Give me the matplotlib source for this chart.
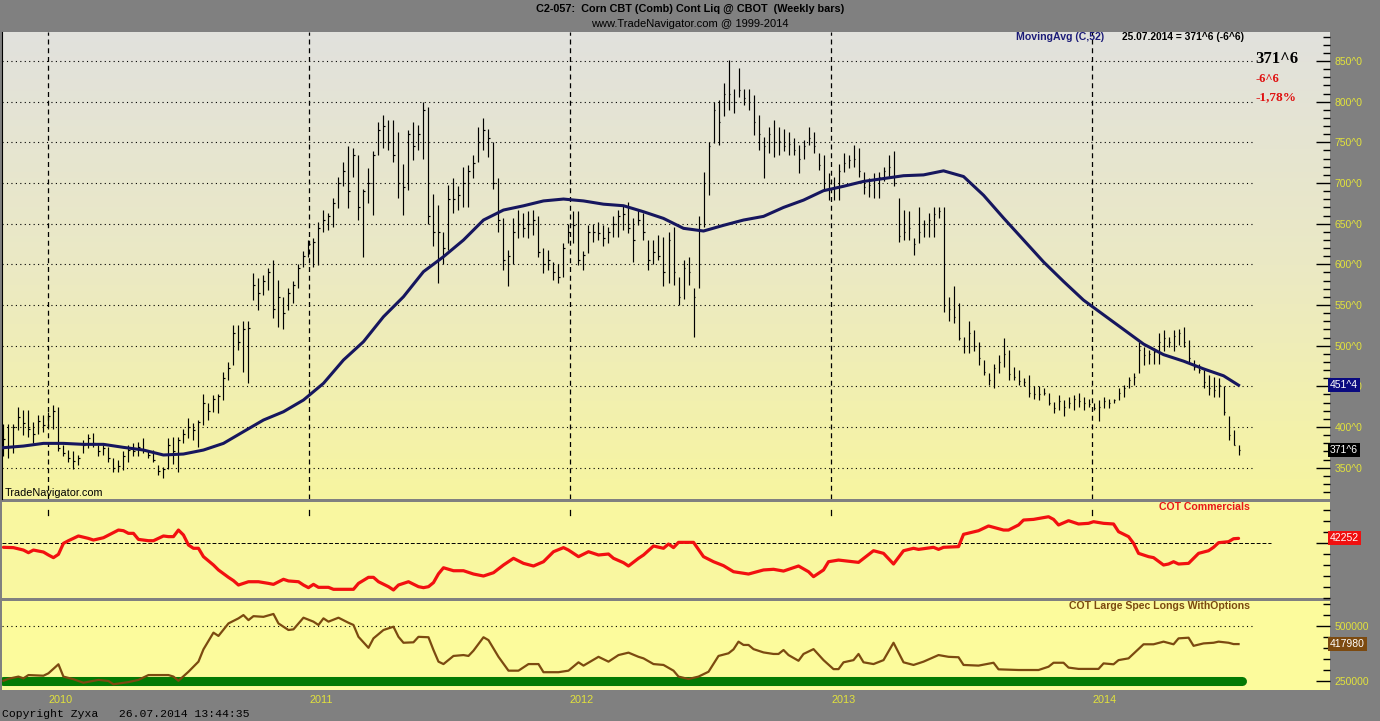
import matplotlib
matplotlib.use('Agg')
import matplotlib.pyplot as plt
import matplotlib.dates as mdates
import matplotlib.transforms as mtransforms
from matplotlib.colors import LinearSegmentedColormap
from matplotlib.ticker import MultipleLocator, FixedLocator, FuncFormatter, NullFormatter
import numpy as np
import pandas as pd

plt.rcParams['font.family'] = ['Liberation Sans', 'DejaVu Sans']

# weekly bars (Fridays), corn continuous contract
dates = pd.date_range('2009-10-30', periods=248, freq='7D')

highs = [404, 404, 404, 425, 421, 421, 406, 415, 415, 419,
         427, 425, 378, 372, 370, 366, 384, 392, 393, 378,
         378, 376, 362, 359, 370, 378, 380, 382, 386, 372,
         372, 353, 351, 386, 388, 388, 398, 411, 405, 409,
         441, 429, 439, 441, 468, 480, 525, 525, 530, 530,
         589, 583, 587, 595, 605, 581, 560, 571, 579, 601,
         616, 630, 632, 652, 667, 663, 681, 708, 726, 745,
         743, 734, 693, 718, 739, 775, 784, 777, 777, 763,
         724, 765, 775, 771, 800, 794, 687, 673, 640, 698,
         706, 696, 720, 722, 734, 769, 780, 767, 751, 706,
         657, 618, 657, 667, 663, 665, 667, 659, 620, 618,
         603, 601, 626, 650, 665, 665, 616, 648, 650, 652,
         648, 646, 659, 667, 673, 677, 657, 667, 663, 630,
         630, 636, 634, 640, 646, 585, 605, 609, 571, 659,
         714, 751, 800, 802, 823, 851, 816, 841, 816, 816,
         808, 784, 757, 769, 777, 769, 767, 763, 755, 747,
         753, 769, 763, 737, 734, 712, 708, 724, 737, 735,
         747, 743, 714, 706, 712, 714, 720, 735, 739, 681,
         667, 665, 632, 671, 655, 663, 671, 671, 671, 560,
         573, 552, 511, 530, 519, 505, 482, 466, 478, 489,
         509, 495, 474, 470, 460, 464, 450, 450, 448, 442,
         431, 439, 433, 437, 439, 442, 437, 435, 429, 433,
         437, 435, 435, 448, 452, 462, 466, 505, 499, 495,
         497, 515, 519, 511, 519, 521, 523, 507, 482, 478,
         470, 464, 462, 460, 450, 413, 396, 378]

lows = [364, 362, 368, 396, 390, 388, 380, 392, 394, 400,
        398, 370, 364, 357, 349, 353, 368, 374, 376, 364,
        366, 357, 345, 345, 347, 357, 364, 364, 368, 362,
        357, 341, 337, 349, 355, 345, 380, 386, 384, 376,
        402, 409, 419, 417, 433, 458, 476, 495, 468, 454,
        556, 544, 562, 568, 534, 523, 521, 544, 552, 571,
        597, 609, 597, 599, 640, 642, 646, 669, 696, 669,
        708, 655, 609, 675, 661, 734, 743, 741, 726, 681,
        661, 691, 728, 741, 730, 650, 622, 577, 601, 618,
        663, 667, 671, 671, 706, 726, 741, 732, 693, 640,
        593, 573, 601, 632, 634, 632, 636, 609, 589, 593,
        581, 577, 585, 626, 626, 599, 593, 614, 628, 630,
        622, 626, 634, 634, 642, 638, 603, 648, 630, 593,
        601, 605, 573, 577, 575, 550, 558, 575, 511, 571,
        646, 685, 749, 747, 782, 790, 786, 806, 796, 790,
        759, 741, 706, 737, 732, 734, 739, 734, 734, 712,
        730, 747, 737, 716, 691, 679, 679, 679, 714, 718,
        720, 708, 687, 683, 681, 681, 702, 708, 696, 628,
        630, 630, 612, 626, 634, 634, 634, 657, 542, 530,
        528, 507, 491, 491, 493, 476, 464, 452, 448, 466,
        474, 458, 458, 452, 450, 437, 435, 433, 439, 427,
        417, 421, 413, 423, 421, 425, 421, 425, 421, 407,
        423, 423, 429, 433, 437, 448, 452, 466, 476, 478,
        478, 478, 493, 499, 493, 501, 499, 480, 470, 466,
        448, 439, 437, 437, 415, 384, 378, 366]

closes = [385, 375, 400, 412, 405, 398, 392, 408, 402, 414,
          420, 374, 368, 362, 358, 362, 378, 386, 380, 370,
          374, 362, 350, 352, 364, 372, 370, 376, 372, 366,
          360, 346, 348, 378, 370, 384, 392, 400, 396, 406,
          430, 420, 434, 438, 460, 472, 515, 505, 520, 522,
          575, 565, 580, 590, 545, 560, 540, 565, 575, 596,
          610, 625, 628, 645, 655, 660, 675, 700, 715, 690,
          735, 670, 690, 700, 735, 765, 770, 750, 735, 700,
          695, 760, 745, 760, 790, 660, 640, 640, 620, 680,
          680, 685, 700, 715, 725, 750, 765, 755, 700, 655,
          605, 610, 640, 650, 645, 650, 655, 615, 600, 605,
          590, 585, 620, 640, 648, 605, 612, 640, 640, 638,
          632, 640, 650, 660, 662, 645, 630, 655, 640, 605,
          615, 610, 590, 630, 590, 560, 595, 590, 560, 650,
          700, 745, 790, 775, 810, 810, 800, 815, 805, 800,
          775, 760, 745, 760, 750, 752, 745, 748, 740, 730,
          745, 755, 745, 722, 700, 700, 695, 715, 725, 728,
          730, 715, 695, 698, 705, 708, 715, 720, 700, 635,
          640, 645, 625, 640, 650, 655, 662, 665, 550, 545,
          535, 510, 500, 515, 500, 485, 468, 458, 472, 480,
          490, 465, 462, 456, 455, 442, 440, 440, 442, 430,
          424, 432, 425, 430, 434, 432, 430, 428, 424, 425,
          432, 430, 433, 442, 448, 458, 462, 495, 488, 490,
          492, 505, 510, 505, 512, 515, 505, 485, 474, 470,
          455, 448, 445, 452, 418, 390, 378.5, 371.75]

# 52-week moving average, read every 4th bar
ma_idx = list(range(0, 248, 4)) + [247]
ma_val = [374.6, 376.6, 379.9, 379.9, 378.7, 378.7, 375.0, 371.7, 365.6, 366.8,
          371.7, 379.9, 394.3, 408.6, 418.8, 433.2, 453.7, 482.4, 504.9, 535.6,
          560.2, 591.0, 609.4, 629.9, 654.5, 666.8, 672.0, 678.0, 680.3, 678.0,
          674.0, 672.1, 664.7, 656.5, 644.3, 641.0, 648.0, 654.5, 659.0, 670.0,
          679.0, 690.6, 696.0, 702.0, 705.5, 709.0, 710.0, 715.0, 708.0, 685.0,
          657.0, 630.0, 603.0, 579.0, 556.0, 538.0, 520.0, 502.0, 489.0, 481.0,
          471.5, 463.0, 451.4]

# COT commercials (bar index, value)
cot_comm = [(0, -39000), (2, -42000), (4, -64000), (5, -88000), (6, -64000), (8, -82000),
            (9, -109000), (10, -133000), (11, -103000), (12, -3000), (13, 21000), (15, 64000),
            (17, 42000), (18, 27000), (20, 48000), (22, 94000), (23, 118000), (24, 112000),
            (25, 88000), (26, 88000), (27, 33000), (29, 21000), (30, 21000), (32, 64000),
            (33, 58000), (34, 58000), (35, 118000), (36, 73000), (37, -18000), (38, -48000),
            (39, -48000), (40, -124000), (42, -200000), (43, -245000), (45, -312000),
            (46, -342000), (47, -382000), (49, -352000), (51, -352000), (53, -367000),
            (54, -376000), (56, -330000), (57, -345000), (59, -352000), (60, -382000),
            (61, -406000), (62, -376000), (63, -403000), (65, -403000), (66, -421000),
            (68, -421000), (70, -421000), (71, -367000), (73, -312000), (74, -312000),
            (75, -352000), (77, -397000), (78, -427000), (79, -382000), (81, -352000),
            (83, -397000), (84, -406000), (85, -397000), (86, -360000), (87, -280000),
            (88, -225000), (90, -252000), (92, -252000), (94, -282000), (96, -300000),
            (98, -270000), (100, -200000), (102, -139000), (104, -185000), (106, -209000),
            (108, -170000), (110, -79000), (112, -42000), (113, -64000), (115, -124000),
            (117, -79000), (119, -109000), (121, -100000), (122, -139000), (124, -179000),
            (125, -209000), (127, -139000), (128, -109000), (130, -27000), (132, -48000),
            (133, -9000), (134, -42000), (135, 6000), (138, 6000), (140, -124000),
            (142, -170000), (144, -206000), (146, -261000), (149, -282000), (152, -245000),
            (154, -239000), (156, -255000), (159, -209000), (161, -261000), (162, -306000),
            (164, -245000), (165, -170000), (167, -155000), (171, -176000), (174, -70000),
            (176, -94000), (178, -191000), (180, -70000), (182, -48000), (183, -58000),
            (186, -39000), (187, -58000), (188, -39000), (191, -33000), (192, 79000),
            (195, 112000), (197, 155000), (200, 118000), (201, 118000), (203, 164000),
            (204, 209000), (206, 215000), (209, 239000), (210, 215000), (211, 164000),
            (213, 203000), (215, 173000), (217, 179000), (218, 194000), (220, 179000),
            (222, 173000), (223, 103000), (225, 58000), (226, -3000), (227, -94000),
            (229, -124000), (230, -133000), (232, -200000), (233, -191000), (234, -170000),
            (235, -191000), (237, -185000), (239, -94000), (241, -70000), (242, -39000),
            (243, 3000), (245, 12000), (246, 39000), (247, 42252)]

# COT large spec longs with options (bar index, value)
cot_spec = [(0, 251000), (1, 260000), (3, 270000), (4, 262000), (5, 277000), (8, 274000),
            (9, 285000), (11, 326000), (12, 270000), (14, 258000), (16, 242000), (19, 255000),
            (21, 250000), (22, 235000), (25, 245000), (27, 255000), (29, 277000), (31, 277000),
            (33, 277000), (34, 270000), (35, 251000), (37, 292000), (39, 338000), (40, 394000),
            (42, 470000), (43, 455000), (45, 512000), (47, 535000), (48, 550000), (49, 527000),
            (50, 545000), (52, 542000), (54, 555000), (55, 512000), (57, 482000), (58, 485000),
            (60, 538000), (62, 520000), (63, 505000), (64, 535000), (65, 520000), (67, 538000),
            (69, 515000), (70, 505000), (71, 451000), (73, 401000), (74, 444000), (76, 482000),
            (78, 497000), (79, 451000), (80, 424000), (82, 426000), (83, 451000), (85, 449000),
            (86, 391000), (87, 338000), (88, 327000), (90, 364000), (92, 368000), (93, 364000),
            (94, 388000), (96, 449000), (97, 436000), (99, 360000), (101, 297000), (103, 297000),
            (105, 327000), (107, 327000), (108, 290000), (111, 290000), (113, 297000),
            (115, 335000), (116, 320000), (119, 360000), (121, 338000), (123, 368000),
            (125, 379000), (127, 360000), (128, 353000), (130, 327000), (132, 323000),
            (134, 297000), (135, 270000), (137, 259000), (139, 270000), (141, 292000),
            (143, 364000), (145, 376000), (146, 394000), (147, 429000), (148, 414000),
            (149, 414000), (150, 395000), (152, 380000), (154, 373000), (155, 373000),
            (156, 391000), (157, 368000), (159, 342000), (160, 373000), (162, 395000),
            (164, 345000), (166, 304000), (167, 304000), (168, 335000), (170, 345000),
            (171, 373000), (172, 335000), (174, 327000), (176, 345000), (178, 424000),
            (180, 335000), (182, 323000), (184, 338000), (187, 368000), (189, 360000),
            (191, 358000), (192, 323000), (195, 320000), (198, 333000), (199, 303000),
            (203, 300000), (207, 300000), (209, 315000), (210, 333000), (212, 333000),
            (213, 311000), (215, 305000), (219, 305000), (220, 330000), (222, 326000),
            (223, 345000), (225, 353000), (228, 417000), (230, 417000), (232, 429000),
            (234, 417000), (235, 444000), (237, 447000), (238, 410000), (240, 421000),
            (242, 424000), (243, 429000), (245, 424000), (246, 418000), (247, 417980)]

years = ['2010', '2011', '2012', '2013', '2014']

W, H = 1380, 721
GRAY = '#808080'
TICKY = '#e2e23c'

fig = plt.figure(figsize=(W / 100, H / 100), dpi=100, facecolor=GRAY)


def box(top, bottom, left=2, right=1330):
    return [left / W, 1 - bottom / H, (right - left) / W, (bottom - top) / H]


ax1 = fig.add_axes(box(32, 499))
ax2 = fig.add_axes(box(502, 598), sharex=ax1)
ax3 = fig.add_axes(box(601, 690), sharex=ax1)

x = mdates.date2num(dates.values)
xl = (x[0] - 2, x[-1] + 128)
yrx = [mdates.date2num(np.datetime64(y + '-01-01')) for y in years]

# ---- main price panel ----
grad = np.linspace(0, 1, 256).reshape(-1, 1)
bg = LinearSegmentedColormap.from_list('bg', ['#e1e1dd', '#ebe9c4', '#f7f5a0'])
ax1.imshow(grad, cmap=bg, aspect='auto', extent=[0, 1, 0, 1],
           transform=ax1.transAxes, zorder=0)

ax1.hlines(np.arange(350, 851, 50), xl[0], x[-1] + 21, colors='black',
           linestyles=(0, (1, 3)), lw=0.8, zorder=1)
for yx in yrx:
    ax1.axvline(yx, color='black', lw=0.9, ls=(0, (4, 3)), zorder=1)

ax1.vlines(x, lows, highs, color='black', lw=0.85, zorder=3)
ax1.hlines(closes, x, x + 2.5, color='black', lw=0.85, zorder=3)
ax1.plot(x[ma_idx], ma_val, color='#16165e', lw=2.2, zorder=4)

ax1.set_xlim(*xl)
ax1.set_ylim(311.5, 885.7)
ax1.yaxis.tick_right()
ax1.yaxis.set_major_locator(MultipleLocator(50))
ax1.yaxis.set_minor_locator(MultipleLocator(10))
ax1.yaxis.set_major_formatter(FuncFormatter(lambda v, p: f'{int(v)}^0'))
ax1.tick_params(axis='y', which='major', direction='in', length=10, width=1,
                color='black', labelcolor=TICKY, labelsize=7.5, pad=3.5)
ax1.tick_params(axis='y', which='minor', direction='in', length=5, width=1, color='black')
ax1.tick_params(axis='x', which='both', bottom=False, labelbottom=False)
for s in ['top', 'right', 'bottom']:
    ax1.spines[s].set_visible(False)
ax1.spines['left'].set_color('black')

bt = mtransforms.blended_transform_factory(ax1.transAxes, ax1.transData)
ax1.text(1.0, ma_val[-1], '451^4', transform=bt, ha='left', va='center', color='white',
         fontsize=7.5, zorder=6, clip_on=False,
         bbox=dict(boxstyle='square,pad=0.18', fc='#0a0a80', ec='none'))
ax1.text(1.0, closes[-1], '371^6', transform=bt, ha='left', va='center', color='white',
         fontsize=7.5, zorder=6, clip_on=False,
         bbox=dict(boxstyle='square,pad=0.18', fc='black', ec='none'))

fig.text(1016 / W, 1 - 37 / H, 'MovingAvg (C,52)', color='#1c1c78', fontsize=7.6,
         weight='bold', ha='left', va='center')
fig.text(1122 / W, 1 - 37 / H, '25.07.2014 = 371^6 (-6^6)', color='black', fontsize=7.4,
         weight='bold', ha='left', va='center')
fig.text(1255 / W, 1 - 59 / H, '371^6', color='black', fontsize=12, weight='bold',
         family='Liberation Serif', ha='left', va='center')
fig.text(1255 / W, 1 - 79 / H, '-6^6', color='#e01010', fontsize=9, weight='bold',
         family='Liberation Serif', ha='left', va='center')
fig.text(1255 / W, 1 - 97 / H, '-1,78%', color='#e01010', fontsize=9.5, weight='bold',
         family='Liberation Serif', ha='left', va='center')
fig.text(5 / W, 1 - 493 / H, 'TradeNavigator.com', color='black', fontsize=7.8,
         ha='left', va='center')

fig.text(690 / W, 1 - 9 / H, 'C2-057:  Corn CBT (Comb) Cont Liq @ CBOT  (Weekly bars)',
         color='black', fontsize=7.8, weight='bold', ha='center', va='center')
fig.text(690 / W, 1 - 24 / H, 'www.TradeNavigator.com @ 1999-2014',
         color='black', fontsize=8, ha='center', va='center')

# ---- COT commercials panel ----
ci, cv = zip(*cot_comm)
ax2.set_facecolor('#f9f7a0')
ax2.hlines(0, xl[0], x[-1] + 45, colors='black', linestyles=(0, (4, 2)), lw=0.7, zorder=1)
ax2.plot(x[list(ci)], cv, color='#f21010', lw=2.3, zorder=3, solid_capstyle='round')
for yx in yrx:
    ax2.axvline(yx, ymin=0.86, ymax=0.92, color='black', lw=0.9)
ax2.set_ylim(-500000, 373000)
ax2.yaxis.tick_right()
ax2.yaxis.set_major_locator(FixedLocator([0]))
ax2.yaxis.set_minor_locator(MultipleLocator(100000))
ax2.yaxis.set_major_formatter(NullFormatter())
ax2.tick_params(axis='y', which='major', direction='in', length=10, width=1, color='black')
ax2.tick_params(axis='y', which='minor', direction='in', length=5, width=1, color='black')
ax2.tick_params(axis='x', which='both', bottom=False, labelbottom=False)
for s in ax2.spines.values():
    s.set_visible(False)
bt2 = mtransforms.blended_transform_factory(ax2.transAxes, ax2.transData)
ax2.text(1.0, cv[-1], '42252', transform=bt2, ha='left', va='center', color='white',
         fontsize=7.5, zorder=6, clip_on=False,
         bbox=dict(boxstyle='square,pad=0.18', fc='#f01010', ec='none'))
fig.text(1250 / W, 1 - 507 / H, 'COT Commercials', color='#e81818', fontsize=7.6,
         weight='bold', ha='right', va='center')

# ---- COT large spec panel ----
si, sv = zip(*cot_spec)
ax3.set_facecolor('#fcfb9c')
ax3.hlines(500000, xl[0], x[-1] + 21, colors='black', linestyles=(0, (1, 3)), lw=0.8, zorder=1)
ax3.plot([x[0], x[-1] + 5], [250000, 250000], color='#037a03', lw=6.5,
         solid_capstyle='round', zorder=2)
ax3.plot(x[list(si)], sv, color='#7c4a10', lw=1.6, zorder=3)
ax3.set_ylim(209000, 614000)
ax3.yaxis.tick_right()
ax3.yaxis.set_major_locator(FixedLocator([250000, 500000]))
ax3.yaxis.set_minor_locator(MultipleLocator(50000))
ax3.yaxis.set_major_formatter(FuncFormatter(lambda v, p: f'{int(v)}'))
ax3.tick_params(axis='y', which='major', direction='in', length=10, width=1,
                color='black', labelcolor=TICKY, labelsize=7.5, pad=3.5)
ax3.tick_params(axis='y', which='minor', direction='in', length=5, width=1, color='black')
ax3.tick_params(axis='x', which='both', bottom=False, labelbottom=False)
for s in ax3.spines.values():
    s.set_visible(False)
bt3 = mtransforms.blended_transform_factory(ax3.transAxes, ax3.transData)
ax3.text(1.0, sv[-1], '417980', transform=bt3, ha='left', va='center', color='white',
         fontsize=7.5, zorder=6, clip_on=False,
         bbox=dict(boxstyle='square,pad=0.18', fc='#7c4a10', ec='none'))
fig.text(1250 / W, 1 - 606 / H, 'COT Large Spec Longs WithOptions', color='#7c4a10',
         fontsize=7.6, weight='bold', ha='right', va='center')

# year labels under the last panel
yt = mtransforms.blended_transform_factory(ax3.transData, fig.transFigure)
for yx, lab in zip(yrx, years):
    ax3.text(yx, 1 - 700 / H, lab, transform=yt, color=TICKY, fontsize=7.8,
             ha='left', va='center', clip_on=False)

fig.text(2 / W, 1 - 714 / H, 'Copyright Zyxa   26.07.2014 13:44:35', color='black',
         fontsize=8.2, family='Liberation Mono', ha='left', va='center')

fig.savefig('out.png', dpi=100, facecolor=GRAY)
